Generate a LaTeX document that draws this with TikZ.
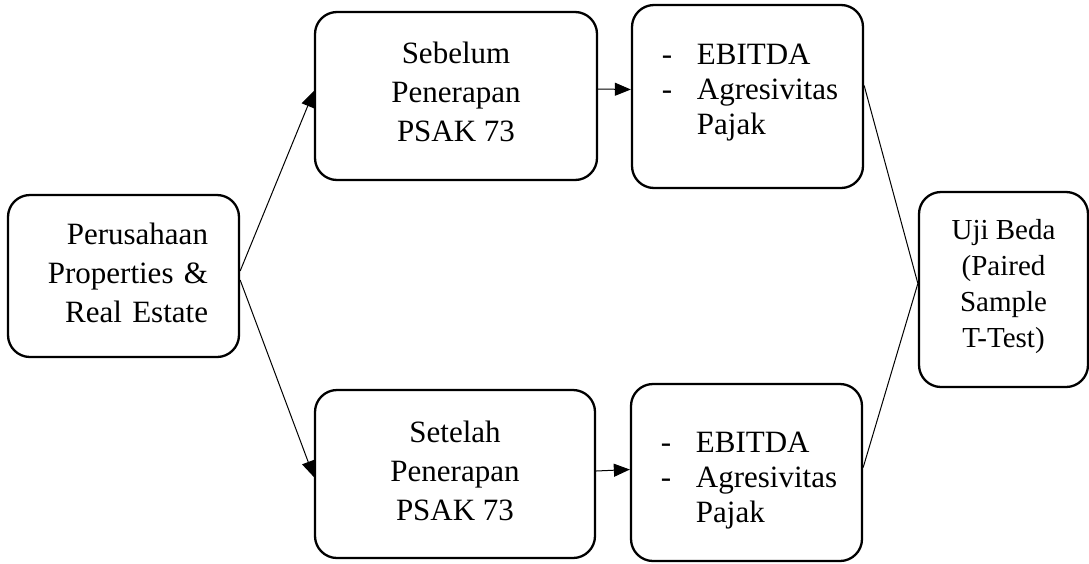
\documentclass[tikz,border=0pt]{standalone}
\usepackage{fontspec}
\setmainfont{Liberation Serif}
\usetikzlibrary{arrows.meta}
\newcommand{\lowerpad}[1]{\rule[-#1]{0pt}{0pt}}
\begin{document}
\begin{tikzpicture}[x=1pt,y=-1pt,
  box/.style={draw, line width=2.3pt, rounded corners=22pt, inner sep=0pt, font=\fontsize{31}{39}\selectfont},
  conn/.style={line width=1pt},
  arr/.style={line width=1pt, -{Triangle[length=16pt,width=13pt]}}]
\useasboundingbox (0,0) rectangle (1089,563);
\node[box, minimum width=231pt, minimum height=162pt, text width=169pt, align=right] (L) at (123.5,276) {Perusahaan\\ Properties \&\\ Real Estate\lowerpad{6pt}};
\node[box, minimum width=282pt, minimum height=168pt, align=center] (T) at (456,96) {Sebelum\\ Penerapan\\ PSAK 73\lowerpad{8pt}};
\node[box, minimum width=280pt, minimum height=168pt, align=center] (B) at (455,474) {Setelah\\ Penerapan\\ PSAK 73\lowerpad{6pt}};
\node[box, minimum width=231pt, minimum height=183pt, font=\fontsize{31}{35}\selectfont] (TR) at (747.5,96.5) {\begin{tabular}{@{\hspace{5pt}}p{35pt}@{}l@{}}-&EBITDA\\-&Agresivitas\\&Pajak\lowerpad{19pt}\end{tabular}};
\node[box, minimum width=231pt, minimum height=177pt, font=\fontsize{31}{35}\selectfont] (BR) at (746.5,472.5) {\begin{tabular}{@{\hspace{5pt}}p{35pt}@{}l@{}}-&EBITDA\rule{0pt}{40pt}\\-&Agresivitas\\&Pajak\end{tabular}};
\node[box, minimum width=169pt, minimum height=195pt, align=center, font=\fontsize{29}{36}\selectfont] (U) at (1003.5,289.5) {Uji Beda\\ (Paired\\ Sample\\ T-Test)\lowerpad{12pt}};
\draw[arr] ([yshift=5pt]L.east) -- ([yshift=5pt]T.west);
\draw[arr] ([yshift=-4pt]L.east) -- ([yshift=-3pt]B.west);
\draw[arr] ([yshift=7pt]T.east) -- ([yshift=7pt]TR.west);
\draw[arr] ([yshift=3pt]B.east) -- ([yshift=3pt]BR.west);
\coordinate (apex) at ([yshift=6pt]U.west);
\draw[conn] ([yshift=11pt]TR.east) -- (apex);
\draw[conn] ([yshift=5pt]BR.east) -- (apex);
\end{tikzpicture}
\end{document}
